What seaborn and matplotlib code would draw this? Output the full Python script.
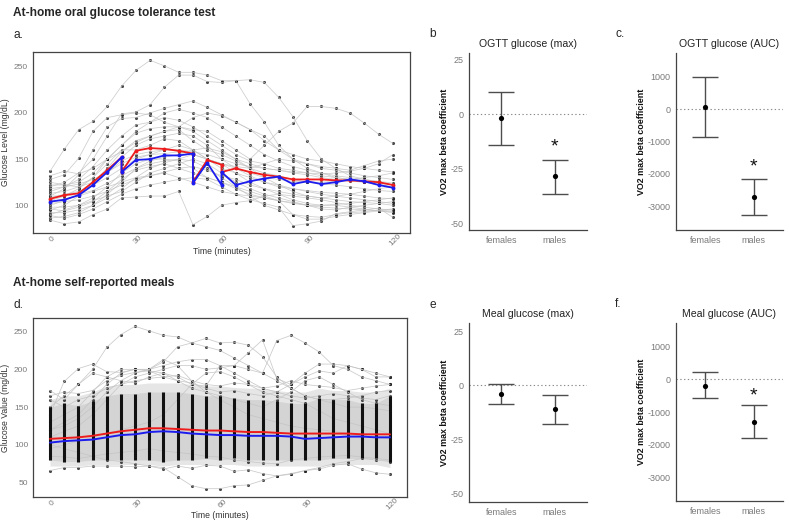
import matplotlib
matplotlib.use("Agg")
import matplotlib.pyplot as plt
import numpy as np
import pandas as pd
import seaborn as sns

sns.set_theme(style="white")
plt.rcParams["font.family"] = ["Liberation Sans", "DejaVu Sans"]
plt.rcParams["axes.unicode_minus"] = False

# ---- data -------------------------------------------------------------
times = list(range(0, 125, 5))

# at-home OGTT, one row per participant (0..120 min every 5 min)
ogtt_traces = [
    [137, 161, 182, 191, 207, 229, 246, 257, 251, 244, 244, 241, 235, 235, 236, 233, 217, 196, 170, 150, 140, 132, 128, 125, 122],
    [120, 125, 135, 150, 175, 199, 201, 209, 228, 241, 241, 234, 233, 235, 210, 190, 165, 150, 140, 135, 130, 128, 125, 122, 120],
    [110, 118, 133, 160, 185, 194, 195, 200, 205, 209, 213, 206, 198, 190, 182, 175, 160, 150, 145, 140, 138, 135, 132, 130, 128],
    [128, 133, 151, 180, 195, 198, 200, 198, 190, 185, 182, 180, 170, 160, 150, 165, 180, 189, 207, 207, 205, 200, 189, 177, 167],
    [115, 120, 128, 142, 160, 175, 187, 190, 195, 192, 185, 175, 165, 155, 148, 145, 140, 138, 135, 132, 130, 128, 126, 124, 122],
    [105, 110, 118, 130, 150, 165, 178, 183, 185, 185, 180, 170, 160, 150, 145, 140, 138, 135, 133, 130, 128, 126, 125, 123, 120],
    [100, 105, 112, 125, 140, 158, 170, 175, 180, 182, 170, 160, 155, 148, 140, 135, 132, 128, 125, 123, 122, 120, 118, 116, 115],
    [95, 100, 110, 122, 138, 152, 165, 172, 175, 178, 175, 165, 150, 140, 132, 125, 120, 118, 116, 114, 113, 112, 110, 108, 107],
    [113, 115, 120, 130, 145, 160, 160, 165, 172, 170, 160, 150, 145, 142, 140, 145, 150, 148, 145, 142, 140, 138, 143, 148, 150],
    [108, 112, 115, 122, 130, 140, 150, 155, 160, 165, 160, 150, 140, 135, 130, 125, 122, 118, 115, 112, 110, 108, 106, 104, 102],
    [90, 95, 100, 108, 120, 135, 145, 150, 150, 148, 140, 130, 125, 118, 112, 108, 105, 102, 100, 98, 97, 96, 95, 94, 93],
    [86, 88, 92, 100, 112, 125, 140, 145, 148, 150, 148, 140, 130, 120, 110, 100, 95, 90, 88, 87, 90, 92, 93, 95, 96],
    [125, 122, 120, 125, 135, 148, 155, 158, 160, 160, 158, 155, 150, 145, 142, 140, 138, 136, 135, 134, 135, 137, 140, 145, 155],
    [98, 98, 100, 105, 110, 115, 125, 135, 140, 145, 150, 145, 135, 125, 118, 112, 108, 104, 100, 96, 95, 98, 100, 102, 104],
    [84, 80, 82, 90, 96, 108, 109, 110, 110, 115, 79, 88, 100, 103, 105, 110, 112, 110, 108, 106, 103, 100, 98, 96, 95],
    [104, 107, 110, 115, 120, 125, 130, 132, 135, 130, 125, 120, 115, 112, 110, 108, 105, 103, 100, 100, 101, 102, 104, 106, 108],
    [118, 120, 123, 128, 136, 145, 152, 155, 156, 158, 155, 150, 145, 140, 135, 130, 128, 126, 125, 125, 126, 128, 130, 132, 135],
    [102, 104, 106, 110, 115, 122, 128, 132, 136, 140, 142, 138, 132, 128, 122, 118, 115, 112, 110, 108, 110, 112, 115, 118, 120],
    [92, 92, 95, 100, 108, 118, 130, 140, 146, 150, 155, 150, 145, 135, 125, 118, 112, 106, 102, 100, 100, 98, 96, 94, 92],
    [110, 110, 112, 116, 124, 132, 140, 148, 152, 155, 160, 162, 158, 150, 140, 130, 122, 115, 110, 108, 106, 104, 103, 102, 100],
    [132, 137, 134, 140, 150, 158, 168, 175, 180, 185, 195, 200, 197, 190, 182, 170, 160, 155, 150, 148, 145, 142, 140, 138, 136],
    [96, 94, 98, 104, 115, 128, 138, 142, 145, 140, 135, 130, 125, 120, 115, 110, 105, 90, 85, 85, 88, 90, 92, 94, 95],
    [89, 86, 90, 96, 104, 112, 118, 122, 125, 128, 130, 128, 120, 112, 106, 102, 98, 78, 80, 83, 91, 93, 95, 97, 87],
    [122, 122, 125, 135, 150, 165, 180, 190, 200, 204, 200, 195, 185, 175, 165, 155, 148, 142, 138, 135, 132, 130, 128, 126, 124],
]

# group means (the repeated times are where the curve jumps)
ogtt_mean_times = [0, 5, 10, 15, 20, 25, 25, 30, 35, 40, 45, 50, 50, 55, 60, 60, 65,
                   70, 75, 80, 85, 90, 95, 100, 105, 110, 115, 120]
ogtt_mean_female = [107, 111, 113, 125, 138, 152, 136, 159, 162, 161, 159, 156, 125, 149,
                    144, 136, 140, 136, 133, 131, 128, 128, 128, 127, 127, 126, 125, 122]
ogtt_mean_male = [104, 106, 111, 122, 136, 152, 136, 149, 150, 154, 154, 156, 124, 146,
                  122, 136, 122, 126, 129, 131, 123, 126, 123, 125, 128, 126, 122, 119]

# self-reported meals: range of the dense bulk of readings per time point
meal_dense_low = [80, 78, 78, 80, 80, 80, 80, 80, 78, 80, 80, 82, 80, 82, 80, 80, 80, 80, 80, 80, 82, 82, 82, 82, 78]
meal_dense_high = [150, 155, 152, 158, 165, 168, 168, 170, 170, 170, 168, 165, 165, 162, 160, 160, 158, 155, 155, 162, 160, 160, 155, 155, 165]
meal_spread_low = [72, 72, 72, 74, 74, 74, 74, 74, 72, 74, 74, 74, 74, 74, 72, 72, 72, 72, 72, 72, 74, 74, 74, 74, 70]
meal_spread_high = [160, 165, 165, 170, 178, 180, 180, 182, 182, 182, 180, 178, 178, 176, 175, 175, 172, 170, 170, 175, 172, 172, 170, 170, 175]

# individual meal curves that stand out of the bulk
meal_traces = [
    [150, 165, 180, 200, 229, 246, 257, 251, 245, 243, 235, 241, 235, 236, 232, 217, 190, 175, 165, 160, 155, 150, 150, 148, 145],
    [130, 140, 150, 170, 190, 200, 200, 200, 205, 210, 213, 213, 205, 195, 185, 175, 170, 180, 195, 207, 207, 205, 200, 190, 190],
    [120, 125, 135, 150, 170, 185, 195, 200, 210, 230, 235, 230, 225, 215, 205, 195, 238, 245, 235, 223, 205, 200, 190, 185, 180],
    [110, 118, 125, 140, 160, 180, 190, 195, 200, 205, 205, 200, 202, 205, 222, 239, 188, 180, 190, 198, 195, 205, 200, 195, 190],
    [100, 95, 90, 85, 80, 78, 75, 72, 70, 58, 46, 42, 42, 46, 47, 53, 59, 62, 66, 70, 75, 78, 82, 80, 78],
    [140, 184, 201, 207, 197, 196, 200, 200, 213, 205, 185, 170, 160, 150, 140, 135, 130, 125, 122, 120, 118, 115, 112, 110, 108],
    [172, 160, 180, 195, 190, 185, 182, 190, 195, 185, 175, 170, 165, 160, 155, 150, 160, 170, 185, 190, 180, 170, 160, 155, 152],
    [66, 70, 70, 72, 72, 72, 71, 72, 68, 72, 69, 73, 72, 65, 67, 62, 59, 61, 66, 68, 73, 75, 68, 63, 61],
    [95, 100, 105, 110, 115, 120, 125, 130, 140, 160, 180, 195, 197, 190, 180, 170, 165, 160, 155, 145, 135, 130, 125, 120, 115],
    [120, 130, 140, 160, 180, 195, 200, 198, 195, 190, 180, 178, 205, 205, 200, 195, 185, 175, 165, 160, 160, 162, 165, 170, 172],
    [160, 150, 160, 165, 175, 180, 185, 188, 190, 192, 185, 180, 178, 182, 180, 175, 178, 185, 180, 178, 176, 172, 175, 178, 180],
    [85, 84, 82, 85, 88, 90, 92, 95, 92, 90, 88, 85, 84, 80, 78, 76, 75, 80, 82, 84, 85, 86, 84, 82, 80],
    [165, 170, 168, 172, 185, 192, 196, 198, 190, 185, 182, 175, 170, 172, 168, 165, 170, 165, 162, 165, 168, 165, 162, 160, 165],
]

meal_mean_female = [108, 109, 110, 112, 115, 118, 120, 122, 122, 121, 120, 119, 119, 118, 117, 117, 116, 115, 115, 115, 115, 115, 114, 114, 114]
meal_mean_male = [103, 105, 106, 107, 110, 113, 114, 117, 118, 117, 115, 114, 113, 113, 112, 112, 112, 111, 108, 109, 110, 111, 111, 110, 110]

# VO2 max beta coefficients (estimate, lower CI, upper CI) for females / males
sexes = ["females", "males"]
ogtt_max_est = [-1.9, -28.5]
ogtt_max_lo = [-14.2, -36.5]
ogtt_max_hi = [10.4, -20.8]
ogtt_auc_est = [60, -2720]
ogtt_auc_lo = [-860, -3270]
ogtt_auc_hi = [1000, -2170]
meal_max_est = [-4.1, -11.2]
meal_max_lo = [-8.7, -18.0]
meal_max_hi = [0.5, -4.6]
meal_auc_est = [-186, -1300]
meal_auc_lo = [-577, -1814]
meal_auc_hi = [216, -784]
# significance stars: (group index, y position)
ogtt_max_star = (1, -15)
ogtt_auc_star = (1, -1800)
meal_max_star = None
meal_auc_star = (1, -520)

# ---- figure -----------------------------------------------------------
W, H = 789, 526
fig = plt.figure(figsize=(W / 100, H / 100), dpi=100)


def box(x0, y0, x1, y1):
    return [x0 / W, 1 - y1 / H, (x1 - x0) / W, (y1 - y0) / H]


tick_grey = "#7a7a7a"


def style_trace_axes(ax, ylabel, yticks, ylim):
    ax.set_xlim(-6, 126)
    ax.set_ylim(*ylim)
    ax.set_xticks([0, 30, 60, 90, 120])
    ax.set_yticks(yticks)
    ax.tick_params(axis="x", labelrotation=45, labelsize=6, colors=tick_grey,
                   length=2.5, width=0.6, pad=0.5)
    ax.tick_params(axis="y", labelsize=6, colors=tick_grey, length=2.5, width=0.6, pad=1)
    for lab in ax.get_xticklabels():
        lab.set_ha("center")
        lab.set_rotation_mode("anchor")
        lab.set_va("top")
    ax.set_xlabel("Time (minutes)", fontsize=6.2, color="#333333", labelpad=0)
    ax.set_ylabel(ylabel, fontsize=6.2, color="#333333", labelpad=3)
    for s in ax.spines.values():
        s.set_visible(True)
        s.set_color("#444444")
        s.set_linewidth(0.9)


def long_table(traces):
    rows = []
    for i, tr in enumerate(traces):
        for t, v in zip(times, tr):
            rows.append({"subject": i, "time": t, "glucose": v})
    return pd.DataFrame(rows)


# panel a: OGTT curves
ax_a = fig.add_axes(box(33, 52, 410, 233))
df_a = long_table(ogtt_traces)
sns.lineplot(data=df_a, x="time", y="glucose", units="subject", estimator=None,
             color="#c4c4c4", lw=0.55, alpha=0.85, ax=ax_a)
sns.scatterplot(data=df_a, x="time", y="glucose", color="#1a1a1a", s=5,
                linewidth=0, alpha=0.8, ax=ax_a)
mean_a = pd.DataFrame({"time": ogtt_mean_times, "female": ogtt_mean_female, "male": ogtt_mean_male})
for col, colr in [("female", "#ee1c1c"), ("male", "#1c1cee")]:
    sns.lineplot(data=mean_a, x="time", y=col, sort=False, estimator=None, color=colr,
                 lw=1.3, marker="o", markersize=2.8, markeredgewidth=0, ax=ax_a)
style_trace_axes(ax_a, "Glucose Level (mg/dL)", [100, 150, 200, 250], (70, 266))

# panel d: meal curves
ax_d = fig.add_axes(box(33, 318, 407, 497))
ax_d.fill_between(times, meal_spread_low, meal_spread_high, color="#e6e6e6", lw=0)
ax_d.fill_between(times, meal_dense_low, meal_dense_high, color="#d4d4d4", lw=0)
df_d = long_table(meal_traces)
sns.lineplot(data=df_d, x="time", y="glucose", units="subject", estimator=None,
             color="#c4c4c4", lw=0.55, alpha=0.9, ax=ax_d)
sns.scatterplot(data=df_d, x="time", y="glucose", color="#1a1a1a", s=5,
                linewidth=0, alpha=0.8, ax=ax_d)
ax_d.vlines(times, meal_dense_low, meal_dense_high, color="#111111", lw=2.2)
mean_d = pd.DataFrame({"time": times, "female": meal_mean_female, "male": meal_mean_male})
for col, colr in [("female", "#ee1c1c"), ("male", "#1c1cee")]:
    sns.lineplot(data=mean_d, x="time", y=col, estimator=None, color=colr, lw=1.4, ax=ax_d)
style_trace_axes(ax_d, "Glucose Value (mg/dL)", [50, 100, 150, 200, 250], (31, 268))


# coefficient panels
def coef_panel(rect, title, est, lo, hi, star, yticks, ylim):
    ax = fig.add_axes(rect)
    df = pd.DataFrame({"pos": [0, 1], "est": est})
    est_a, lo_a, hi_a = np.array(est), np.array(lo), np.array(hi)
    ax.axhline(0, color="#8a8a8a", lw=0.8, ls=(0, (1.2, 2.2)), zorder=1)
    ax.errorbar(df["pos"], est_a, yerr=[est_a - lo_a, hi_a - est_a], fmt="none",
                ecolor="#4d4d4d", elinewidth=1.0, capsize=9.5, capthick=1.0, zorder=2)
    sns.scatterplot(data=df, x="pos", y="est", color="black", s=14, linewidth=0, zorder=3, ax=ax)
    if star is not None:
        ax.text(star[0], star[1], "*", ha="center", va="center", fontsize=14, color="#111111")
    ax.set_xlim(-0.6, 1.6)
    ax.set_ylim(*ylim)
    ax.set_xticks([0, 1])
    ax.set_xticklabels(sexes)
    ax.set_yticks(yticks)
    ax.tick_params(axis="both", labelsize=6.5, colors=tick_grey, length=2.5, width=0.6, pad=1.5)
    ax.set_xlabel("")
    ax.set_ylabel("VO2 max beta coefficient", fontsize=6.4, fontweight="bold", color="#111111", labelpad=1)
    ax.set_title(title, fontsize=7.6, color="#222222", pad=4)
    sns.despine(ax=ax)
    for s in ("left", "bottom"):
        ax.spines[s].set_color("#444444")
        ax.spines[s].set_linewidth(0.9)
    return ax


coef_panel(box(469, 53, 587, 230), "OGTT glucose (max)", ogtt_max_est, ogtt_max_lo,
           ogtt_max_hi, ogtt_max_star, [25, 0, -25, -50], (-53.2, 28.2))
coef_panel(box(676, 53, 783, 230), "OGTT glucose (AUC)", ogtt_auc_est, ogtt_auc_lo,
           ogtt_auc_hi, ogtt_auc_star, [1000, 0, -1000, -2000, -3000], (-3744, 1744))
coef_panel(box(469, 323, 587, 502), "Meal glucose (max)", meal_max_est, meal_max_lo,
           meal_max_hi, meal_max_star, [25, 0, -25, -50], (-54, 28.7))
coef_panel(box(676, 323, 783, 501), "Meal glucose (AUC)", meal_auc_est, meal_auc_lo,
           meal_auc_hi, meal_auc_star, [1000, 0, -1000, -2000, -3000], (-3738, 1738))

# section headings and panel letters
fig.text(13 / W, 1 - 13 / H, "At-home oral glucose tolerance test", fontsize=8.6,
         fontweight="bold", va="center", ha="left")
fig.text(13 / W, 1 - 283 / H, "At-home self-reported meals", fontsize=8.6,
         fontweight="bold", va="center", ha="left")
for x, y, lab in [(13, 35, "a."), (13, 305, "d."), (429, 34, "b"), (429, 305, "e"),
                  (615, 34, "c."), (615, 304, "f.")]:
    fig.text(x / W, 1 - y / H, lab, fontsize=8.6, va="center", ha="left")

fig.savefig("out.png", dpi=100)
